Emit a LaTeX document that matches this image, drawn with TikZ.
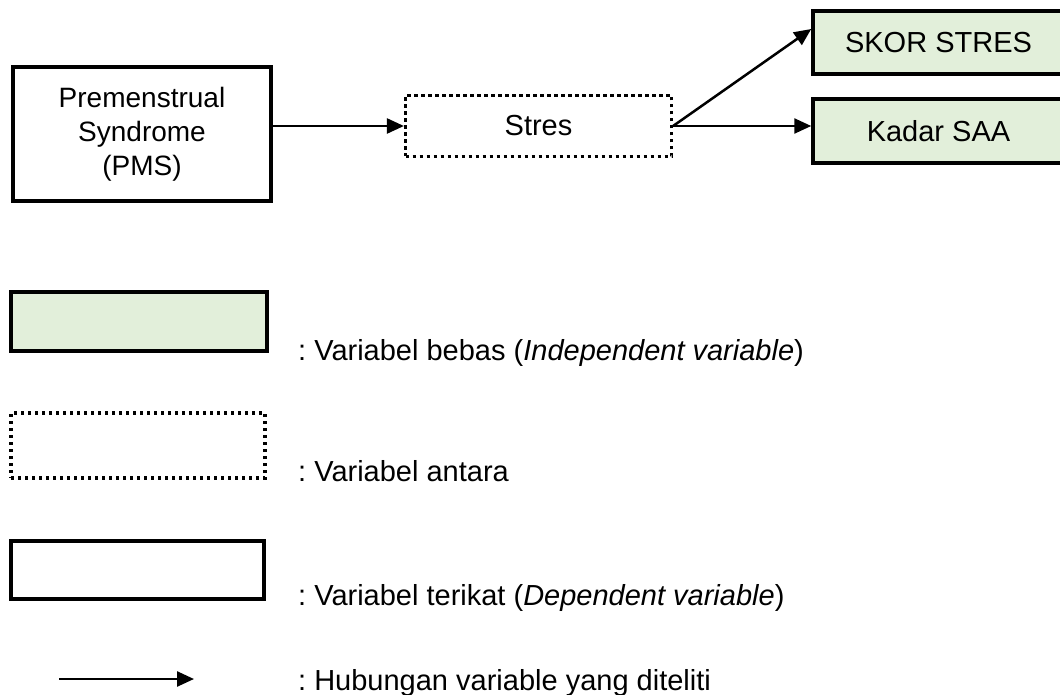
\documentclass[tikz,border=0pt]{standalone}
\usepackage{fontspec}
\setmainfont{Liberation Sans}
\usetikzlibrary{arrows.meta,positioning}
\definecolor{hijau}{HTML}{E2EFDA}
\frenchspacing

\begin{document}
\begin{tikzpicture}[x=1pt, y=-1pt,
  every node/.style={font=\fontsize{29}{34}\selectfont, align=center, inner sep=0pt},
  kotak/.style={draw, line width=3.5pt, minimum width=#1},
  bebas/.style={kotak=#1, fill=hijau},
  antara/.style={draw, line width=3.2pt, dash pattern=on 3.2pt off 3.8pt, minimum width=#1},
  panah/.style={line width=2.5pt, -{Triangle[length=17pt,width=15pt]}},
  ket/.style={anchor=base west}
]
\useasboundingbox (0,0) rectangle (1060,695);

% diagram
\node[kotak=258pt, minimum height=134pt, font=\fontsize{28}{34}\selectfont] (pms) at (142,134) {Premenstrual\\Syndrome\\(PMS)};
\node[antara=266pt, minimum height=61pt] (stres) at (538.5,126) {Stres};
\node[bebas=251pt, minimum height=63pt] (skor) at (938.5,42.5) {SKOR STRES};
\node[bebas=251pt, minimum height=64pt] (kadar) at (938.5,131) {Kadar SAA};

\draw[panah] (pms.east |- stres.west) -- (stres.west);
\draw[panah] (stres.east) -- ([yshift=13.5pt]skor.west);
\draw[panah] (stres.east) -- (kadar.west |- stres.east);

% keterangan
\node[bebas=256pt, minimum height=59pt] (kbebas) at (139,321.5) {};
\node[antara=254pt, minimum height=65pt] (kantara) at (138,445.5) {};
\node[kotak=253pt, minimum height=58pt] (kterikat) at (137.5,570) {};
\coordinate (ka) at (59,679);
\coordinate (kb) at (194,679);
\draw[panah] (ka) -- (kb);

\node[ket] (tbebas) at (298,360) {: Variabel bebas (\textit{Independent variable})};
\node[ket] (tantara) at (298,481) {: Variabel antara};
\node[ket] (tterikat) at (298,605) {: Variabel terikat (\textit{Dependent variable})};
\node[ket] (thub) at (298,690) {: Hubungan variable yang diteliti};
\end{tikzpicture}
\end{document}
